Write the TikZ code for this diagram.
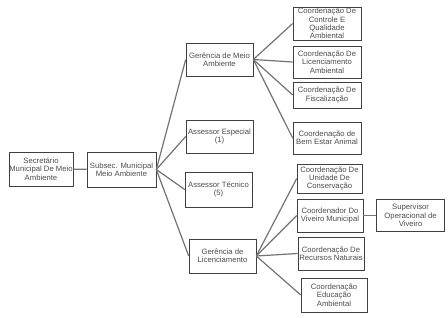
\documentclass[tikz,border=0pt]{standalone}
\usepackage{fontspec}
\setmainfont{Liberation Sans}
\usetikzlibrary{positioning}

\begin{document}
\begin{tikzpicture}[x=1pt,y=-1pt,
  box/.style={draw=black!75,line width=0.6pt,align=center,inner sep=0.5pt,
    minimum width=68pt,minimum height=33pt,text=black!70,
    font=\fontsize{7.7}{8.4}\selectfont},
  conn/.style={draw=black!55,line width=1.2pt}
]
  \useasboundingbox (0,0) rectangle (448,318);

  % left side
  \node[box,minimum width=64pt,minimum height=34pt] (sec) at (41,169) {Secretário\\Municipal De Meio\\Ambiente};
  \node[box,minimum width=69pt,minimum height=35pt] (sub) at (121.5,169.5) {Subsec. Municipal\\Meio Ambiente};

  % middle column
  \node[box,minimum width=67pt] (gma) at (219.5,59.5) {Gerência de Meio\\Ambiente};
  \node[box,minimum width=67pt] (aesp) at (219.5,136.5) {Assessor Especial\\(1)};
  \node[box,minimum width=67pt,minimum height=35pt] (atec) at (218.5,189.5) {Assessor Técnico\\(5)};
  \node[box,minimum width=67pt,minimum height=34pt] (glic) at (222.5,256) {Gerência de\\Licenciamento};

  % under Gerencia de Meio Ambiente
  \node[box] (cqa) at (327,23.5) {Coordenação De\\Controle E\\Qualidade\\Ambiental};
  \node[box,minimum height=32pt] (cla) at (327,62) {Coordenação De\\Licenciamento\\Ambiental};
  \node[box,minimum height=26pt] (cfi) at (327,95) {Coordenação De\\Fiscalização};
  \node[box,minimum height=32pt] (cba) at (327,138) {Coordenação de\\Bem Estar Animal};

  % under Gerencia de Licenciamento
  \node[box,minimum width=65pt,minimum height=29pt] (cuc) at (329.5,178.5) {Coordenação De\\Unidade De\\Conservação};
  \node[box,minimum width=66pt] (cvm) at (330,215.5) {Coordenador Do\\Viveiro Municipal};
  \node[box,minimum height=32pt,right=13pt of cvm] (sov) {Supervisor\\Operacional de\\Viveiro};
  \node[box,minimum width=66pt] (crn) at (331,253.5) {Coordenação De\\Recursos Naturais};
  \node[box,minimum width=66pt,minimum height=34pt] (cea) at (334,295) {Coordenação\\Educação\\Ambiental};

  \draw[conn] (sec) -- (sub);
  \foreach \t in {gma,aesp,atec,glic}
    \draw[conn] (sub.east) -- (\t.west);
  \foreach \t in {cqa,cla,cfi,cba}
    \draw[conn] (gma.east) -- (\t.west);
  \foreach \t in {cuc,cvm,crn,cea}
    \draw[conn] (glic.east) -- (\t.west);
  \draw[conn] (cvm) -- (sov);
\end{tikzpicture}
\end{document}
